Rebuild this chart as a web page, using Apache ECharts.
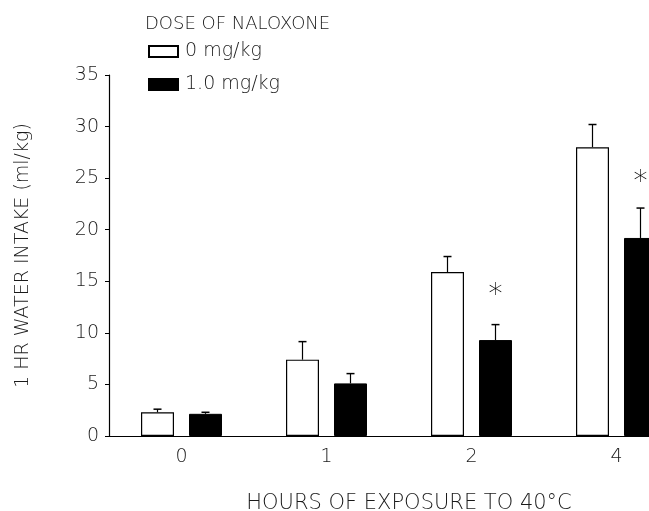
<!DOCTYPE html>
<html>
<head>
<meta charset="utf-8">
<script src="https://cdn.jsdelivr.net/npm/echarts@6/dist/echarts.min.js"></script>
<style>
html,body{margin:0;padding:0;background:#fff;}
#chart{width:649px;height:511px;}
</style>
</head>
<body>
<div id="chart"></div>
<script>
const categories = ['0', '1', '2', '4'];
const seriesNames = ['0 mg/kg', '1.0 mg/kg'];
const dose0 = [2.3, 7.4, 15.9, 28.0];
const dose0Err = [2.6, 9.15, 17.4, 30.2];
const dose1 = [2.15, 5.1, 9.3, 19.2];
const dose1Err = [2.3, 6.05, 10.8, 22.1];
const asteriskDose1 = [null, null, 14.2, 25.15];
const yTicks = [0, 5, 10, 15, 20, 25, 30, 35];

const FONT = 'DejaVu Sans';
const TXT = '#1a1a1a';
const BAR_W = 33;
const BAR_GAP = 15;
const OFF = (BAR_W + BAR_GAP) / 2;

function errItem(offset) {
  return function (params, api) {
    const x = api.value(0);
    const top = api.coord([x, api.value(1)]);
    const base = api.coord([x, api.value(2)]);
    const cx = top[0] + offset;
    return {
      type: 'group',
      children: [
        {type: 'line', shape: {x1: cx, y1: base[1], x2: cx, y2: top[1]}, style: {stroke: '#000', lineWidth: 1.2}},
        {type: 'line', shape: {x1: cx - 4, y1: top[1], x2: cx + 4, y2: top[1]}, style: {stroke: '#000', lineWidth: 1.5}}
      ]
    };
  };
}

function starItem(offset) {
  return function (params, api) {
    const v = api.value(1);
    if (v == null || isNaN(v)) return null;
    const p = api.coord([api.value(0), v]);
    return {
      type: 'text',
      x: p[0] + offset, y: p[1] + 6,
      style: {text: '*', fontFamily: FONT, fontSize: 28, fontWeight: 200, fill: '#000', align: 'center', verticalAlign: 'middle'}
    };
  };
}

const chart = echarts.init(document.getElementById('chart'));
chart.setOption({
  animation: false,
  backgroundColor: '#fff',
  textStyle: {fontFamily: FONT},
  title: {
    text: 'DOSE OF NALOXONE',
    left: 140, top: 10,
    textStyle: {fontFamily: FONT, fontSize: 18, fontWeight: 200, color: TXT}
  },
  legend: {
    orient: 'vertical',
    left: 143, top: 37,
    itemWidth: 29, itemHeight: 11, itemGap: 14,
    data: seriesNames,
    textStyle: {fontFamily: FONT, fontSize: 19, lineHeight: 19, fontWeight: 200, color: TXT, padding: [0, 0, 0, 2]},
    icon: 'rect'
  },
  grid: {left: 109, top: 75, width: 580, height: 361, containLabel: false, outerBoundsMode: 'none'},
  xAxis: {
    type: 'category',
    data: categories,
    name: 'HOURS OF EXPOSURE TO 40°C',
    nameLocation: 'middle',
    nameGap: 57,
    nameTextStyle: {fontFamily: FONT, fontSize: 21, fontWeight: 200, color: TXT, padding: [0, 0, 0, 20]},
    axisLine: {lineStyle: {color: '#000', width: 1.2}},
    axisTick: {show: false},
    axisLabel: {fontFamily: FONT, fontSize: 19, fontWeight: 200, color: TXT, margin: 12}
  },
  yAxis: {
    type: 'value',
    min: 0, max: 35, interval: 5,
    name: '1 HR WATER INTAKE (ml/kg)',
    nameLocation: 'middle',
    nameGap: 76,
    nameTextStyle: {fontFamily: FONT, fontSize: 19, fontWeight: 200, color: TXT},
    axisLine: {show: true, lineStyle: {color: '#000', width: 1.2}},
    axisTick: {show: true, length: 4, lineStyle: {color: '#000'}},
    splitLine: {show: false},
    axisLabel: {
      fontFamily: FONT, fontSize: 19, fontWeight: 200, color: TXT, margin: 10,
      formatter: function (v) { return yTicks.indexOf(v) >= 0 ? String(v) : ''; }
    }
  },
  series: [
    {
      name: seriesNames[0], type: 'bar', data: dose0,
      barWidth: BAR_W, barGap: (BAR_GAP / BAR_W * 100) + '%',
      itemStyle: {color: '#fff', borderColor: '#000', borderWidth: 1.2}
    },
    {
      name: seriesNames[1], type: 'bar', data: dose1,
      barWidth: BAR_W,
      itemStyle: {color: '#000', borderColor: '#000', borderWidth: 1}
    },
    {
      type: 'custom', renderItem: errItem(-OFF), silent: true, z: 1,
      data: categories.map((c, i) => [i, dose0Err[i], dose0[i]])
    },
    {
      type: 'custom', renderItem: errItem(OFF), silent: true, z: 1,
      data: categories.map((c, i) => [i, dose1Err[i], dose1[i]])
    },
    {
      type: 'custom', renderItem: starItem(OFF), silent: true,
      data: categories.map((c, i) => [i, asteriskDose1[i]])
    }
  ]
});
</script>
</body>
</html>
